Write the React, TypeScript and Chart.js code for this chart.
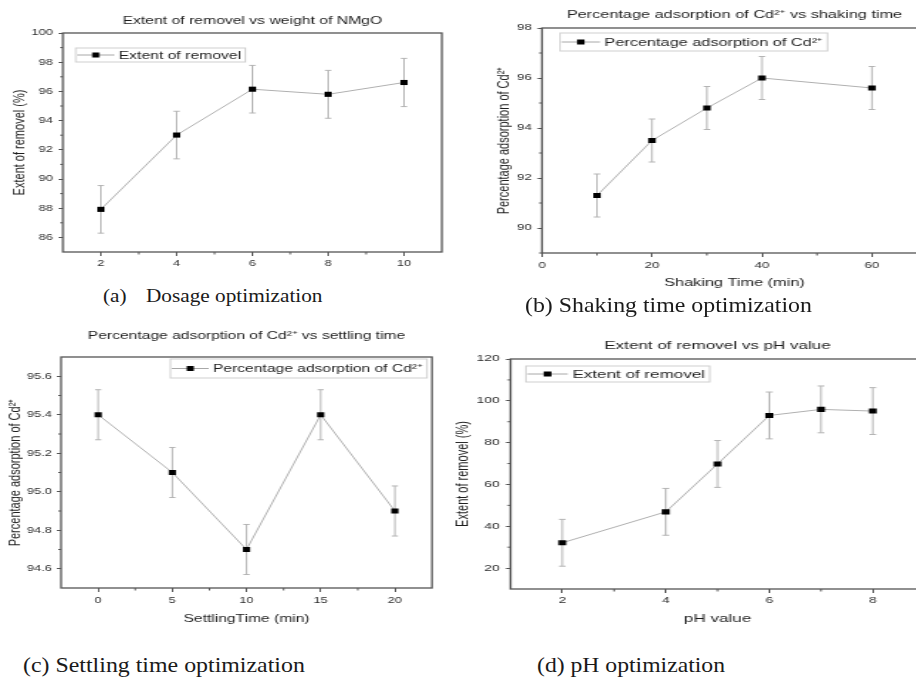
import React, { useEffect, useRef } from "react";
import { Chart, registerables } from "chart.js";

Chart.register(...registerables);

const SANS = '"Liberation Sans", Arial, Helvetica, sans-serif';
const SERIF = '"Liberation Serif", "Times New Roman", serif';

// (a) Dosage optimization
const dosageX = [2, 4, 6, 8, 10];
const dosageY = [87.92, 93.01, 96.15, 95.8, 96.61];
const dosageErr = [1.63, 1.63, 1.63, 1.64, 1.65];
const dosageXTicks = [2, 4, 6, 8, 10];
const dosageXMinor = [3, 5, 7, 9];
const dosageYTicks = [86, 88, 90, 92, 94, 96, 98, 100];
const dosageYMinor = [87, 89, 91, 93, 95, 97, 99];

// (b) Shaking time optimization
const shakeX = [10, 20, 30, 40, 60];
const shakeY = [91.3, 93.5, 94.8, 96.0, 95.6];
const shakeErr = [0.86, 0.86, 0.86, 0.86, 0.86];
const shakeXTicks = [0, 20, 40, 60];
const shakeXMinor = [10, 30, 50];
const shakeYTicks = [90, 92, 94, 96, 98];
const shakeYMinor = [89, 91, 93, 95, 97];

// (c) Settling time optimization
const settleX = [0, 5, 10, 15, 20];
const settleY = [95.4, 95.1, 94.7, 95.4, 94.9];
const settleErr = [0.13, 0.13, 0.13, 0.13, 0.13];
const settleXTicks = [0, 5, 10, 15, 20];
const settleXMinor = [2.5, 7.5, 12.5, 17.5];
const settleYTicks = [94.6, 94.8, 95.0, 95.2, 95.4, 95.6];
const settleYMinor = [94.7, 94.9, 95.1, 95.3, 95.5];

// (d) pH optimization
const phX = [2, 4, 5, 6, 7, 8];
const phY = [32.1, 46.9, 69.8, 93.0, 95.9, 95.1];
const phErr = [11.2, 11.2, 11.2, 11.2, 11.2, 11.2];
const phXTicks = [2, 4, 6, 8];
const phXMinor = [3, 5, 7];
const phYTicks = [20, 40, 60, 80, 100, 120];
const phYMinor = [30, 50, 70, 90, 110];

const CD = "Cd\u00B2\u207A";

type Spec = {
  left: number; top: number; k: number; w: number; h: number;
  padRight: number; yWidth: number; xHeight: number;
  xMin: number; xMax: number; yMin: number; yMax: number;
  xs: number[]; ys: number[]; err: number[];
  xTicks: number[]; xMinor: number[]; yTicks: number[]; yMinor: number[];
  yDec: number;
  title: string; titlePad: [number, number];
  xTitle: string; xTitlePad: number;
  yTitle: string; yTitlePad: number;
  xTickPad: number; yTickPad: number;
  legendText: string; legendAnchor: "left" | "right"; legendDx: number; legendDy: number; legendH: number;
};

const specs: Spec[] = [
  {
    left: 0, top: 0, k: 1.43, w: 322, h: 275, padRight: 13, yWidth: 44, xHeight: 23,
    xMin: 1, xMax: 11, yMin: 85, yMax: 100,
    xs: dosageX, ys: dosageY, err: dosageErr,
    xTicks: dosageXTicks, xMinor: dosageXMinor, yTicks: dosageYTicks, yMinor: dosageYMinor, yDec: 0,
    title: "Extent of removel vs weight of NMgO", titlePad: [14.4, 5.4],
    xTitle: "", xTitlePad: 0, yTitle: "Extent of removel (%)", yTitlePad: 7.4,
    xTickPad: 2, yTickPad: 4,
    legendText: "Extent of removel", legendAnchor: "left", legendDx: 9, legendDy: 15, legendH: 14,
  },
  {
    left: 460, top: 0, k: 1.48, w: 321, h: 300, padRight: 5.5, yWidth: 55.4, xHeight: 47,
    xMin: 0, xMax: 70, yMin: 89, yMax: 98,
    xs: shakeX, ys: shakeY, err: shakeErr,
    xTicks: shakeXTicks, xMinor: shakeXMinor, yTicks: shakeYTicks, yMinor: shakeYMinor, yDec: 0,
    title: "Percentage adsorption of " + CD + " vs shaking time", titlePad: [8.4, 6.4],
    xTitle: "Shaking Time (min)", xTitlePad: 10.4, yTitle: "Percentage adsorption of " + CD, yTitlePad: 23.8,
    xTickPad: 3.3, yTickPad: 4,
    legendText: "Percentage adsorption of " + CD, legendAnchor: "left", legendDx: 12.2, legendDy: 5, legendH: 18,
  },
  {
    left: 0, top: 320, k: 1.42, w: 316, h: 315, padRight: 11.8, yWidth: 43, xHeight: 47,
    xMin: -2.5, xMax: 22.5, yMin: 94.5, yMax: 95.7,
    xs: settleX, ys: settleY, err: settleErr,
    xTicks: settleXTicks, xMinor: settleXMinor, yTicks: settleYTicks, yMinor: settleYMinor, yDec: 1,
    title: "Percentage adsorption of " + CD + " vs settling time", titlePad: [9.4, 14.4],
    xTitle: "SettlingTime (min)", xTitlePad: 9.4, yTitle: "Percentage adsorption of " + CD, yTitlePad: 4,
    xTickPad: 3.3, yTickPad: 3.5,
    legendText: "Percentage adsorption of " + CD, legendAnchor: "right", legendDx: 3.5, legendDy: 2, legendH: 19,
  },
  {
    left: 440, top: 320, k: 1.55, w: 318, h: 315, padRight: 5.4, yWidth: 45.5, xHeight: 46,
    xMin: 1, xMax: 9, yMin: 10, yMax: 120,
    xs: phX, ys: phY, err: phErr,
    xTicks: phXTicks, xMinor: phXMinor, yTicks: phYTicks, yMinor: phYMinor, yDec: 0,
    title: "Extent of removel vs pH value", titlePad: [19.4, 6.4],
    xTitle: "pH value", xTitlePad: 9.4, yTitle: "Extent of removel (%)", yTitlePad: 8.2,
    xTickPad: 2.6, yTickPad: 4,
    legendText: "Extent of removel", legendAnchor: "left", legendDx: 9.9, legendDy: 7, legendH: 16,
  },
];

function Panel({ s }: { s: Spec }) {
  const ref = useRef<HTMLCanvasElement>(null);
  useEffect(() => {
    const canvas = ref.current;
    if (!canvas) return;
    const decor = {
      id: "decor",
      beforeDatasetsDraw(chart: any) {
        const ctx = chart.ctx;
        const xs = chart.scales.x;
        const ys = chart.scales.y;
        ctx.save();
        ctx.strokeStyle = "#b4b4b4";
        ctx.lineWidth = 1;
        s.xs.forEach((xv, i) => {
          const px = xs.getPixelForValue(xv);
          const t = ys.getPixelForValue(s.ys[i] + s.err[i]);
          const b = ys.getPixelForValue(s.ys[i] - s.err[i]);
          ctx.beginPath();
          ctx.moveTo(px, t);
          ctx.lineTo(px, b);
          ctx.moveTo(px - 2.2, t);
          ctx.lineTo(px + 2.2, t);
          ctx.moveTo(px - 2.2, b);
          ctx.lineTo(px + 2.2, b);
          ctx.stroke();
        });
        ctx.restore();
      },
      afterDraw(chart: any) {
        const ctx = chart.ctx;
        const ca = chart.chartArea;
        const xs = chart.scales.x;
        const ys = chart.scales.y;
        ctx.save();
        // frame
        ctx.strokeStyle = "#555";
        ctx.lineWidth = 1.3;
        ctx.strokeRect(ca.left, ca.top, ca.right - ca.left, ca.bottom - ca.top);
        // minor ticks
        ctx.lineWidth = 1;
        ctx.beginPath();
        s.xMinor.forEach((v) => {
          const px = xs.getPixelForValue(v);
          ctx.moveTo(px, ca.bottom);
          ctx.lineTo(px, ca.bottom + 2.5);
        });
        s.yMinor.forEach((v) => {
          const py = ys.getPixelForValue(v);
          ctx.moveTo(ca.left, py);
          ctx.lineTo(ca.left - 2, py);
        });
        ctx.stroke();
        // legend
        ctx.font = "11px " + SANS;
        const tw = ctx.measureText(s.legendText).width;
        const w = 30 + tw + 3;
        const bx = s.legendAnchor === "left" ? ca.left + s.legendDx : ca.right - s.legendDx - w;
        const by = ca.top + s.legendDy;
        const cy = by + s.legendH / 2;
        ctx.strokeStyle = "#cfcfcf";
        ctx.lineWidth = 1;
        ctx.strokeRect(bx, by, w, s.legendH);
        ctx.strokeStyle = "#a8a8a8";
        ctx.beginPath();
        ctx.moveTo(bx + 1, cy);
        ctx.lineTo(bx + 27, cy);
        ctx.stroke();
        ctx.fillStyle = "#000";
        ctx.fillRect(bx + 14 - 2.5, cy - 2.5, 5, 5);
        ctx.fillStyle = "#1e1e1e";
        ctx.textBaseline = "middle";
        ctx.textAlign = "left";
        ctx.fillText(s.legendText, bx + 30, cy + 0.5);
        ctx.restore();
      },
    };

    const tickFont = { family: SANS, size: 9 };
    const titleFont = { family: SANS, size: 11, weight: "normal" as const };
    const chart = new Chart(canvas, {
      type: "line",
      data: {
        datasets: [
          {
            label: s.legendText,
            data: s.xs.map((x, i) => ({ x, y: s.ys[i] })),
            borderColor: "#b0b0b0",
            borderWidth: 1,
            pointStyle: "rect",
            pointRadius: 3.6,
            pointBackgroundColor: "#000",
            pointBorderColor: "#000",
            pointBorderWidth: 0,
            tension: 0,
          },
        ],
      },
      options: {
        responsive: false,
        animation: false,
        devicePixelRatio: 1,
        events: [],
        layout: { padding: { left: 0, right: s.padRight, top: 0, bottom: 0 } },
        plugins: {
          legend: { display: false },
          tooltip: { enabled: false },
          title: {
            display: true,
            text: s.title,
            fullSize: false,
            color: "#1e1e1e",
            font: titleFont,
            padding: { top: s.titlePad[0], bottom: s.titlePad[1] },
          },
        },
        scales: {
          x: {
            type: "linear",
            min: s.xMin,
            max: s.xMax,
            afterBuildTicks: (sc: any) => {
              sc.ticks = s.xTicks.map((v) => ({ value: v }));
            },
            afterFit: (sc: any) => {
              sc.height = s.xHeight;
            },
            ticks: {
              autoSkip: false,
              maxRotation: 0,
              padding: s.xTickPad,
              color: "#2e2e2e",
              font: tickFont,
              callback: (v: any) => String(v),
            },
            grid: { display: true, drawOnChartArea: false, drawTicks: true, tickLength: 4, color: "#555", tickColor: "#555" },
            border: { display: false },
            title: {
              display: !!s.xTitle,
              text: s.xTitle,
              color: "#1e1e1e",
              font: titleFont,
              padding: { top: 0, bottom: s.xTitlePad },
            },
          },
          y: {
            type: "linear",
            min: s.yMin,
            max: s.yMax,
            afterBuildTicks: (sc: any) => {
              sc.ticks = s.yTicks.map((v) => ({ value: v }));
            },
            afterFit: (sc: any) => {
              sc.width = s.yWidth;
            },
            ticks: {
              autoSkip: false,
              padding: s.yTickPad,
              color: "#2e2e2e",
              font: tickFont,
              callback: (v: any) => Number(v).toFixed(s.yDec),
            },
            grid: { display: true, drawOnChartArea: false, drawTicks: true, tickLength: 3, color: "#555", tickColor: "#555" },
            border: { display: false },
            title: {
              display: true,
              text: s.yTitle,
              color: "#1e1e1e",
              font: titleFont,
              padding: { top: s.yTitlePad, bottom: 0 },
            },
          },
        },
      },
      plugins: [decor],
    } as any);
    return () => chart.destroy();
  }, [s]);

  return (
    <div
      style={{
        position: "absolute",
        left: s.left,
        top: s.top,
        transform: `scaleX(${s.k})`,
        transformOrigin: "0 0",
      }}
    >
      <canvas ref={ref} width={s.w} height={s.h} style={{ display: "block" }} />
    </div>
  );
}

type Cap = { label: string; text: string; left: number; top: number; size: number; k: number; gap: number };
const captions: Cap[] = [
  { label: "(a)", text: "Dosage optimization", left: 103, top: 285.7, size: 19.5, k: 1.09, gap: 17.8 },
  { label: "(b)", text: "Shaking time optimization", left: 525, top: 295.4, size: 21, k: 1.136, gap: 0 },
  { label: "(c)", text: "Settling time optimization", left: 23, top: 655.4, size: 21, k: 1.137, gap: 0 },
  { label: "(d)", text: "pH optimization", left: 537, top: 655.4, size: 21, k: 1.127, gap: 0 },
];

export default function App() {
  return (
    <div
      style={{
        position: "absolute",
        left: 0,
        top: 0,
        width: 916,
        height: 677,
        overflow: "hidden",
        background: "#fff",
      }}
    >
      {specs.map((s, i) => (
        <Panel key={i} s={s} />
      ))}
      {captions.map((c, i) => (
        <div
          key={"c" + i}
          style={{
            position: "absolute",
            left: c.left,
            top: c.top,
            fontFamily: SERIF,
            fontSize: c.size,
            lineHeight: 1,
            color: "#1a1a1a",
            whiteSpace: "pre",
            transform: `scaleX(${c.k})`,
            transformOrigin: "0 0",
          }}
        >
          <span>{c.label}</span>
          <span style={{ marginLeft: c.gap || c.size * 0.25 }}>{c.text}</span>
        </div>
      ))}
    </div>
  );
}
